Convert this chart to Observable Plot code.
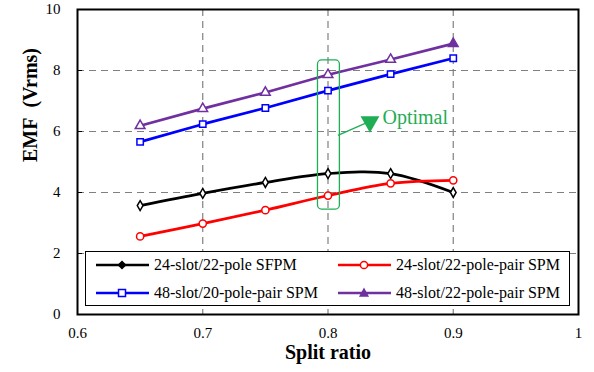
<!DOCTYPE html>
<html><head><meta charset="utf-8">
<script src="https://cdn.jsdelivr.net/npm/d3@7"></script>
<script src="https://cdn.jsdelivr.net/npm/@observablehq/plot@0.6"></script>
<style>
body{margin:0;background:#fff;font-family:"Liberation Serif","Times New Roman","DejaVu Serif",serif;}
#wrap{position:relative;width:594px;height:372px;}
#wrap svg text{font-family:"Liberation Serif","Times New Roman","DejaVu Serif",serif;}
#legend{position:absolute;left:85px;top:251px;width:483px;height:53px;border:1.5px solid #000;background:#fff;font-family:"Liberation Serif","Times New Roman","DejaVu Serif",serif;font-size:16px;}
.item{position:absolute;height:20px;display:flex;align-items:center;white-space:nowrap;}
.item svg{margin-right:5px;}
</style></head><body>
<div id="wrap"><div id="legend"></div></div>
<script>
const splitRatio = [0.65, 0.70, 0.75, 0.80, 0.85, 0.90];
const sfpm24 = [3.57, 3.97, 4.33, 4.62, 4.62, 4.00];
const spm24 = [2.56, 2.98, 3.42, 3.90, 4.30, 4.40];
const spm48_20 = [5.66, 6.24, 6.77, 7.34, 7.88, 8.40];
const spm48_22 = [6.19, 6.75, 7.28, 7.86, 8.36, 8.88];
const seriesNames = ["24-slot/22-pole SFPM", "24-slot/22-pole-pair SPM", "48-slot/20-pole-pair SPM", "48-slot/22-pole-pair SPM"];
const seriesColors = ["#000000", "#ff0000", "#0000ff", "#7030a0"];
const seriesSymbols = ["diamond", "circle", "square", "triangle"];
const seriesCurves = ["catmull-rom", "catmull-rom", "linear", "linear"];
const xTicks = [0.6, 0.7, 0.8, 0.9, 1];
const yTicks = [0, 2, 4, 6, 8, 10];
// annotation (data coordinates)
const optimalBox = [{x1: 0.792, x2: 0.8095, y1: 3.44, y2: 8.33}];
const optimalArrow = [{x1: 0.8079, y1: 5.87, x2: 0.8315, y2: 6.30}];
const optimalHead = [{x: 0.8335, y: 6.32}];
const optimalLabel = [{x: 0.8435, y: 6.45, text: "Optimal"}];

const allValues = [sfpm24, spm24, spm48_20, spm48_22];
const rows = [];
allValues.forEach((vals, s) => vals.forEach((v, i) => rows.push({x: splitRatio[i], y: v, s, last: i === vals.length - 1})));
const green = "#1fae55";
const serif = "Liberation Serif, Times New Roman, DejaVu Serif, serif";

const marks = [
  Plot.gridX(xTicks.slice(1, -1), {stroke: "#808080", strokeOpacity: 1, strokeDasharray: "7,5", strokeWidth: 1.2}),
  Plot.gridY(yTicks.slice(1, -1), {stroke: "#808080", strokeOpacity: 1, strokeDasharray: "7,5", strokeWidth: 1.2}),
  Plot.axisX(xTicks, {tickSize: 0, tickPadding: 13, fontSize: 15, tickFormat: d => d === 1 ? "1" : d.toFixed(1), label: null}),
  Plot.axisY(yTicks, {tickSize: -5, tickPadding: 22, fontSize: 15, label: null}),
];
allValues.forEach((vals, s) => {
  const d = rows.filter(r => r.s === s);
  marks.push(Plot.line(d, {x: "x", y: "y", stroke: seriesColors[s], strokeWidth: 2.7, curve: seriesCurves[s]}));
  marks.push(Plot.dot(d, {x: "x", y: "y", stroke: seriesColors[s], fill: r => (s === 3 && r.last) ? seriesColors[s] : "white", strokeWidth: 1.5, symbol: seriesSymbols[s], r: s === 0 ? 3 : 3.6}));
});
marks.push(
  Plot.rect(optimalBox, {x1: "x1", x2: "x2", y1: "y1", y2: "y2", stroke: green, strokeWidth: 1.3, fill: "none", rx: 4}),
  Plot.link(optimalArrow, {x1: "x1", y1: "y1", x2: "x2", y2: "y2", stroke: green, strokeWidth: 1.3}),
  Plot.dot(optimalHead, {x: "x", y: "y", symbol: "triangle", rotate: 180, r: 7, fill: green, stroke: "none"}),
  Plot.text(optimalLabel, {x: "x", y: "y", text: "text", fill: green, fontSize: 20, textAnchor: "start", fontFamily: serif}),
  Plot.frame({stroke: "#000", strokeWidth: 2}),
  Plot.text(["Split ratio"], {frameAnchor: "bottom", lineAnchor: "middle", dy: 38, fontSize: 20, fontWeight: "bold", fontFamily: serif}),
  Plot.text(["EMF\u00a0\u00a0(Vrms)"], {frameAnchor: "left", lineAnchor: "middle", dx: -47, rotate: -90, fontSize: 20, fontWeight: "bold", fontFamily: serif})
);

const chart = Plot.plot({
  width: 594, height: 372,
  marginLeft: 77, marginRight: 16, marginTop: 9, marginBottom: 58,
  style: {fontFamily: serif, fontSize: "15px", color: "#000", background: "#fff"},
  x: {domain: [0.6, 1]},
  y: {domain: [0, 10]},
  marks
});
document.getElementById("wrap").prepend(chart);

// legend
const legend = document.getElementById("legend");
const pos = [[10, 3], [252, 3], [10, 31], [252, 31]];
const symbolPaths = {
  diamond: 'M0,-3.5L3.5,0L0,3.5L-3.5,0Z',
  circle: null,
  square: 'M-3.5,-3.5H3.5V3.5H-3.5Z',
  triangle: 'M0,-4L3.8,3H-3.8Z'
};
seriesNames.forEach((name, s) => {
  const div = document.createElement("div");
  div.className = "item";
  div.style.left = pos[s][0] + "px";
  div.style.top = pos[s][1] + "px";
  const c = seriesColors[s];
  const sym = seriesSymbols[s] === "circle"
    ? `<circle cx="26" cy="10" r="3.6" fill="white" stroke="${c}" stroke-width="1.5"/>`
    : `<path transform="translate(26,10)" d="${symbolPaths[seriesSymbols[s]]}" fill="${(s === 0 || s === 3) ? c : 'white'}" stroke="${c}" stroke-width="1.5"/>`;
  div.innerHTML = `<svg width="53" height="20"><line x1="0" x2="53" y1="10" y2="10" stroke="${c}" stroke-width="2.7"/>${sym}</svg><span>${name}</span>`;
  legend.appendChild(div);
});
</script>
</body></html>
